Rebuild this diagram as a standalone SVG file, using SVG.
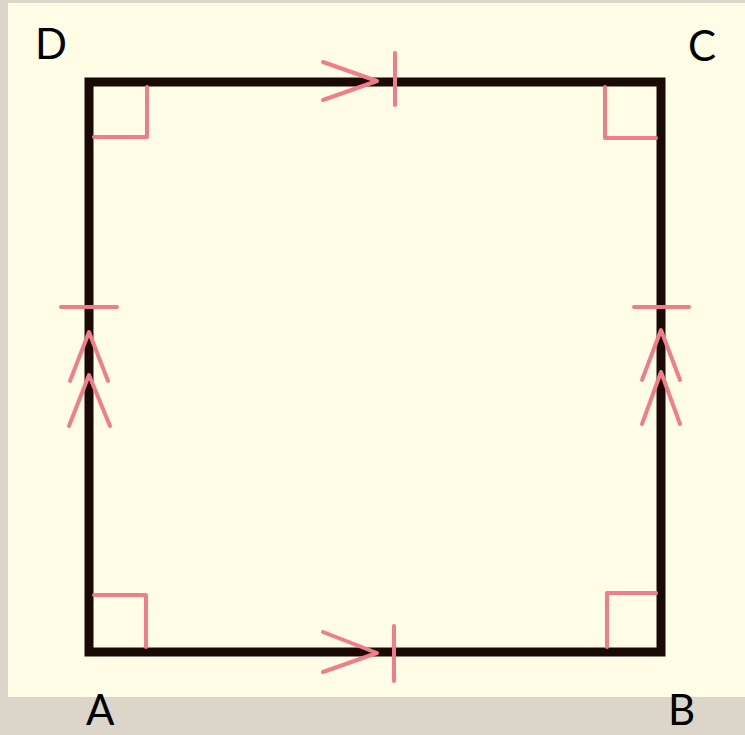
<svg xmlns="http://www.w3.org/2000/svg" width="745" height="735" viewBox="0 0 745 735">
<defs>
<style>
.lbl{font-family:Lato,"Liberation Sans",sans-serif;font-size:42px;fill:#000}
.pk{fill:none;stroke:#f07e88;stroke-width:4;stroke-linecap:round;stroke-linejoin:round}
.edge{fill:none;stroke:#1a0a06;stroke-width:9;stroke-linejoin:miter}
</style>
</defs>
<rect width="745" height="735" fill="#dcd5ca"/>
<rect x="8" y="3" width="737" height="694" fill="#fffde6"/>
<g id="square">
<rect x="89" y="82" width="572" height="570" fill="#fffee8" class="edge"/>
</g>
<g id="right-angles">
<path class="pk" d="M94 137 H147 V87"/>
<path class="pk" d="M656 138 H605 V87"/>
<path class="pk" d="M94 595 H146 V647"/>
<path class="pk" d="M656 593 H607 V647"/>
</g>
<g id="connectors">
<path class="pk" d="M323 62 L377 81 L323 100"/>
<path class="pk" d="M395 53 V105"/>
<path class="pk" d="M323 632 L377 653 L323 672"/>
<path class="pk" d="M394 626 V681"/>
<path class="pk" d="M61 307 H117"/>
<path class="pk" d="M70 381 L89 332 L108 381"/>
<path class="pk" d="M69 426 L89 375 L110 426"/>
<path class="pk" d="M634 307 H689"/>
<path class="pk" d="M642 380 L661 330 L680 380"/>
<path class="pk" d="M642 424 L661 372 L680 424"/>
</g>
<g id="D"><text class="lbl" x="35" y="59">D</text></g>
<g id="C"><text class="lbl" x="688" y="61">C</text></g>
<g id="A"><text class="lbl" x="86" y="725">A</text></g>
<g id="B"><text class="lbl" x="668" y="725">B</text></g>
</svg>
